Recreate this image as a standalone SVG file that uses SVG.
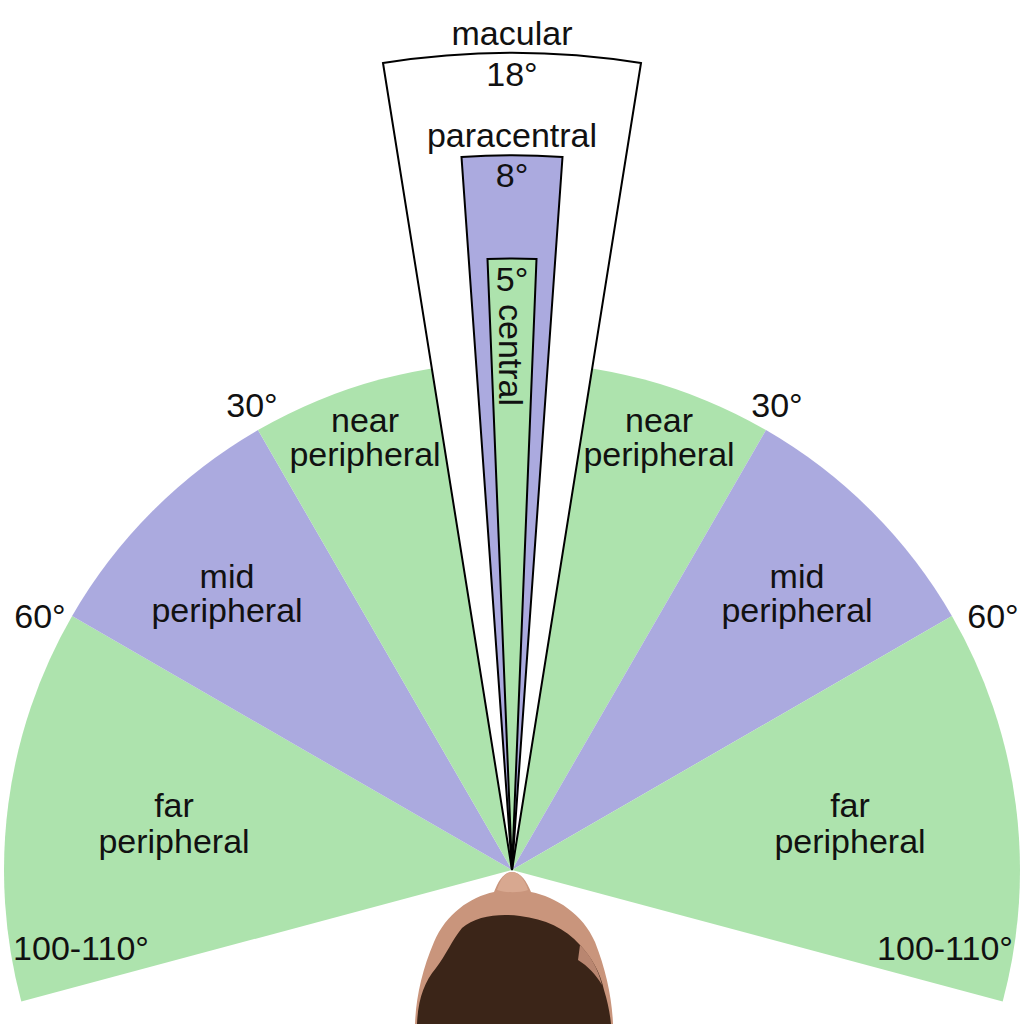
<svg xmlns="http://www.w3.org/2000/svg" width="1024" height="1024" viewBox="0 0 1024 1024">
<style>
text{font-family:"Liberation Sans",Arial,sans-serif;font-size:34px;fill:#111;text-anchor:middle}
.g{fill:#ade3ad}
.p{fill:#abaadf}
.w{stroke:#000;stroke-width:2;stroke-linejoin:miter}
</style>
<rect width="1024" height="1024" fill="#fff"/>
<g id="fan">
<path id="far-left" class="g" d="M512,870 L21.3,1001.5 A508,508 0 0 1 72.1,616 Z"/>
<path id="mid-left" class="p" d="M512,870 L72.1,616 A508,508 0 0 1 258,430.1 Z"/>
<path id="near" class="g" d="M512,870 L258,430.1 A508,508 0 0 1 766,430.1 Z"/>
<path id="mid-right" class="p" d="M512,870 L766,430.1 A508,508 0 0 1 951.9,616 Z"/>
<path id="far-right" class="g" d="M512,870 L951.9,616 A508,508 0 0 1 1002.7,1001.5 Z"/>
</g>
<g id="head">
<path fill="#c9957c" d="M512,872 C503,872 498,882 494,892 C470,897 446,914 434,942 C422,970 416,998 415,1024 L613,1024 C612,998 606,970 595,942 C583,914 556,897 531,892 C527,882 521,872 512,872 Z"/>
<path fill="#d8a890" d="M512,872 C505,872 500,880 497,890 C505,893 520,893 528,890 C525,880 519,872 512,872 Z"/>
<path fill="#3b2518" d="M417,1024 C418,1000 424,982 436,968 C446,955 452,940 462,928 C475,916 500,913 520,916 C545,919 565,928 580,945 C592,958 600,972 604,990 C608,1003 610,1014 611,1024 Z"/>
<path fill="#b98670" d="M580,945 C590,955 598,968 602,985 C596,975 588,966 578,960 Z"/>
</g>
<g id="connectors">
<path id="macular" fill="#fff" class="w" d="M512,870 L383,63 A817,817 0 0 1 641,63 Z"/>
<path id="paracentral" class="p w" d="M512,870 L461.5,157 A715,715 0 0 1 562.5,157 Z"/>
<path id="central" class="g w" d="M512,870 L487.5,259 A611,611 0 0 1 536.5,259 Z"/>
</g>
<g id="labels">
<text x="512" y="45">macular</text>
<text x="512" y="86">18°</text>
<text x="512" y="147">paracentral</text>
<text x="512" y="187">8°</text>
<text x="512" y="291">5°</text>
<text transform="translate(499,355) rotate(90)">central</text>
<text x="252" y="417">30°</text>
<text x="777" y="417">30°</text>
<text x="40" y="628">60°</text>
<text x="993" y="628">60°</text>
<text x="81" y="960">100-110°</text>
<text x="945" y="960">100-110°</text>
<text x="365" y="432">near</text>
<text x="365" y="466">peripheral</text>
<text x="659" y="432">near</text>
<text x="659" y="466">peripheral</text>
<text x="227" y="588">mid</text>
<text x="227" y="622">peripheral</text>
<text x="797" y="588">mid</text>
<text x="797" y="622">peripheral</text>
<text x="174" y="817">far</text>
<text x="174" y="853">peripheral</text>
<text x="850" y="817">far</text>
<text x="850" y="853">peripheral</text>
</g>
</svg>
